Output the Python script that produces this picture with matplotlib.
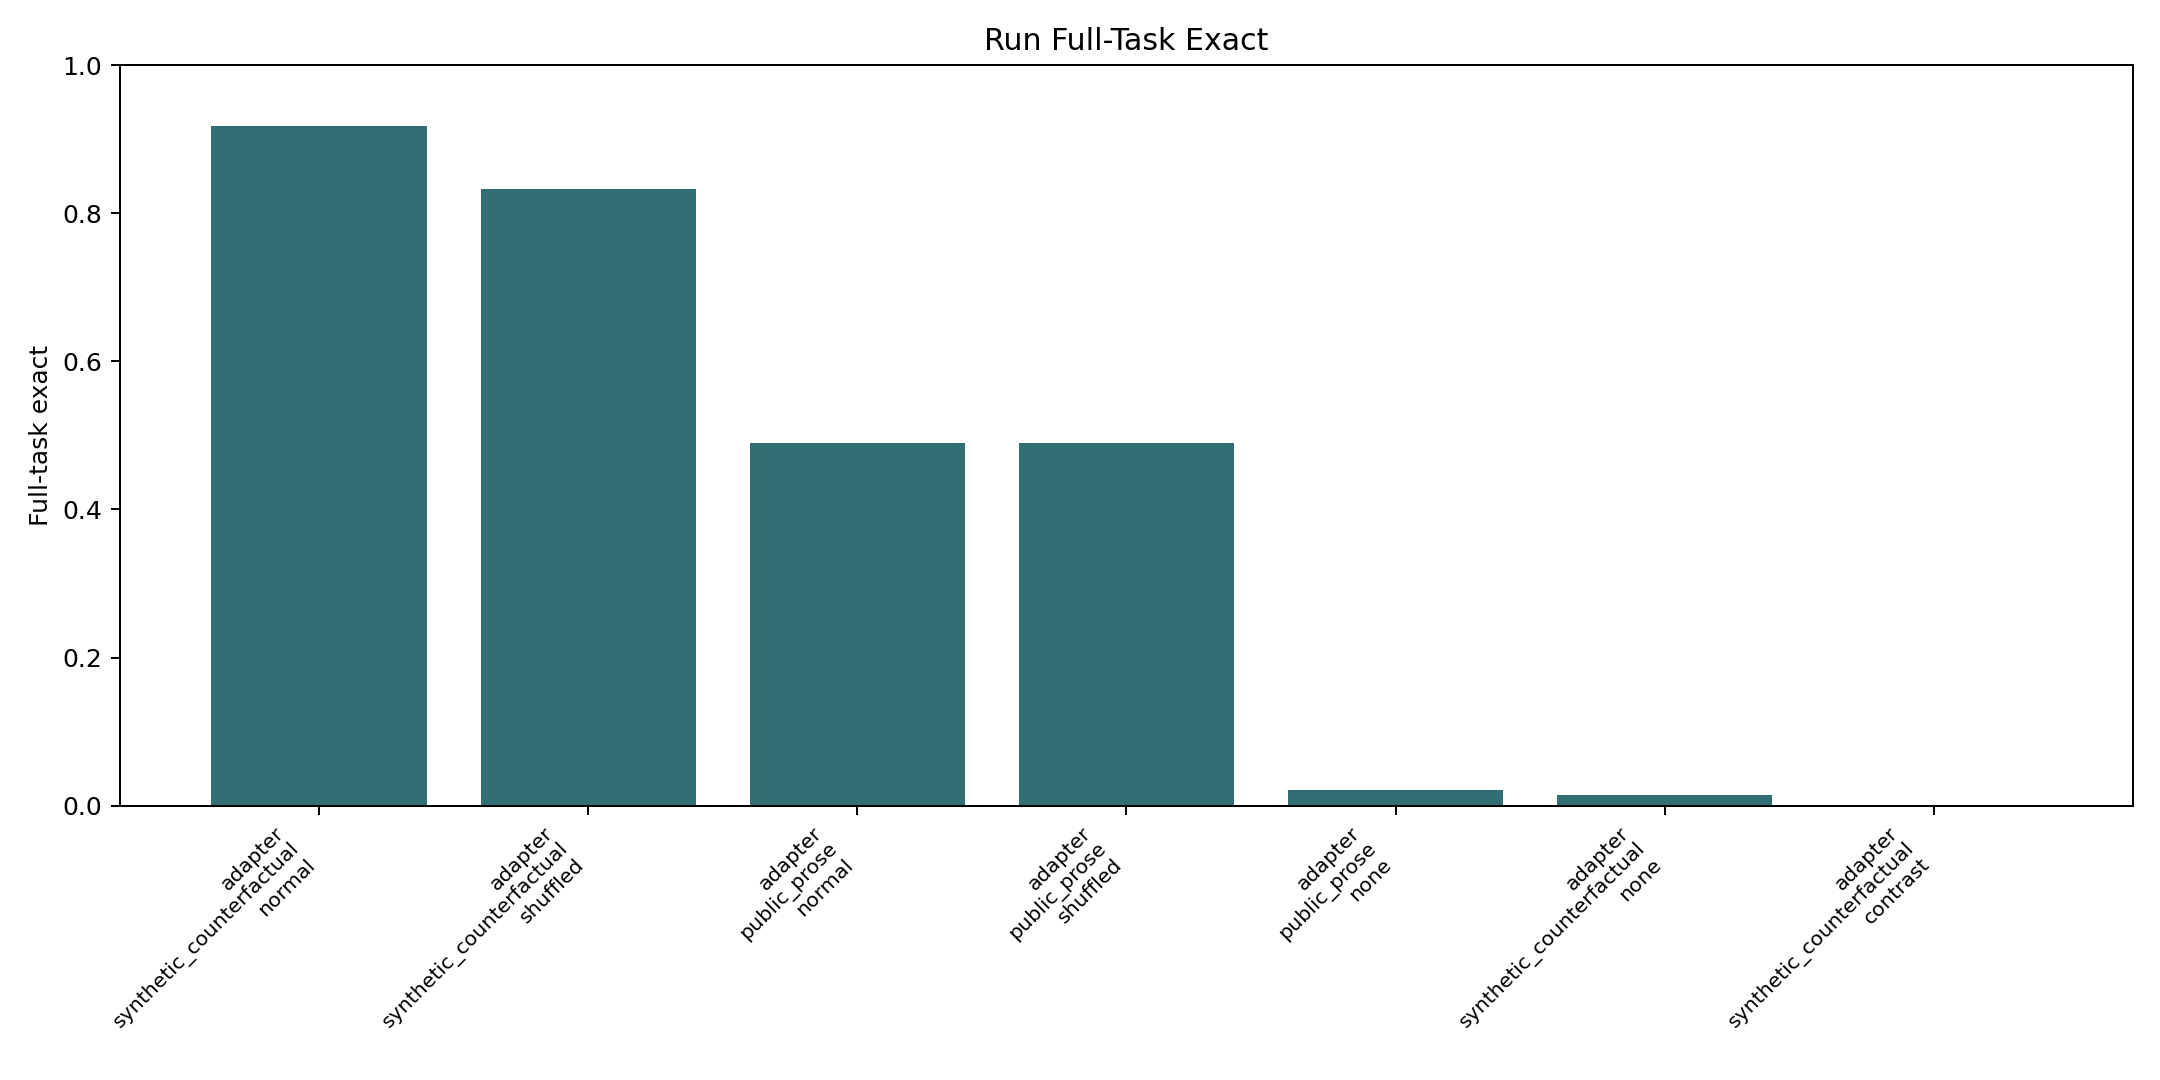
import numpy as np
import matplotlib
matplotlib.use("Agg")
import matplotlib.pyplot as plt

# run labels: method / data source / context mode
methods = ["adapter", "adapter", "adapter", "adapter", "adapter", "adapter", "adapter"]
sources = ["synthetic_counterfactual", "synthetic_counterfactual", "public_prose",
           "public_prose", "public_prose", "synthetic_counterfactual",
           "synthetic_counterfactual"]
modes = ["normal", "shuffled", "normal", "shuffled", "none", "none", "contrast"]
exact = [0.917, 0.833, 0.489, 0.489, 0.021, 0.015, 0.0]

labels = [m + "\n" + s + "\n" + c for m, s, c in zip(methods, sources, modes)]
x = np.arange(len(labels))

fig, ax = plt.subplots(figsize=(12, 6), dpi=180)
ax.bar(x, exact, color="#336e74")
ax.set_xticks(x)
ax.set_xticklabels(labels, rotation=45, ha="right", fontsize=8.2)
ax.set_ylim(0, 1)
ax.set_ylabel("Full-task exact")
ax.set_title("Run Full-Task Exact")
fig.subplots_adjust(left=0.0555, right=0.9875, top=0.9398, bottom=0.254)
fig.savefig("out.png")
